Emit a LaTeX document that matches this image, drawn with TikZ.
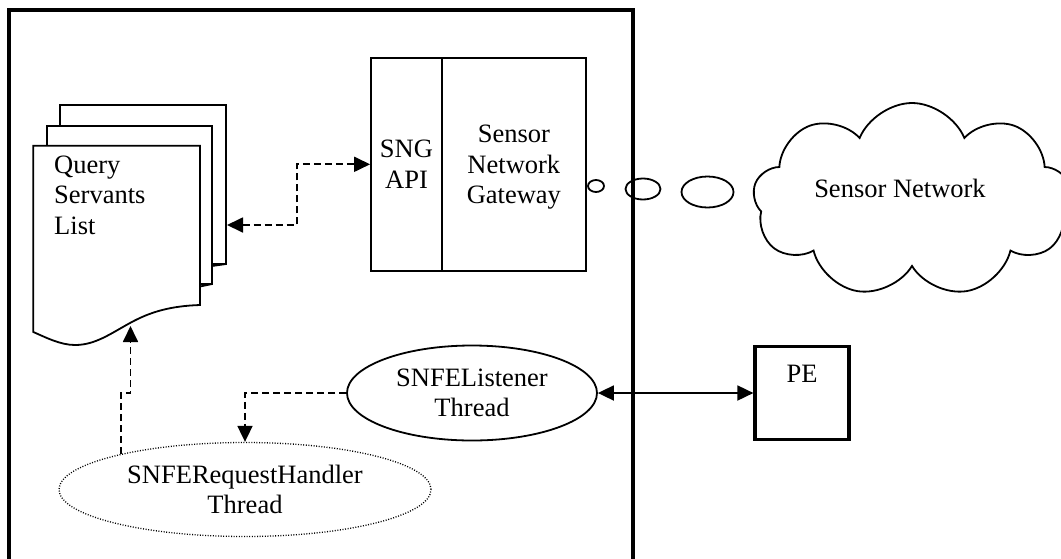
\documentclass[tikz,border=0pt]{standalone}
\usepackage{fontspec}
\setmainfont{Liberation Serif}
\usetikzlibrary{arrows.meta,shapes.geometric,shapes.symbols}
\tikzset{
  txt/.style={font=\fontsize{26.5}{30.5}\selectfont, align=center, inner sep=0pt},
  ln/.style={line width=1.8pt},
  bigbox/.style={line width=3.2pt},
  dconn/.style={ln, dash pattern=on 7pt off 4pt},
  doc/.style={ln, fill=white, line join=miter},
  boxpart/.style={draw, ln, rectangle, inner sep=0pt},
  thread/.style={draw, ln, ellipse, inner sep=0pt},
  bubble/.style={ln},
}
\begin{document}
\begin{tikzpicture}[x=1pt,y=-1pt]
\useasboundingbox (0,0) rectangle (1061,558);
% system boundary
\draw[bigbox] (9,10) rectangle (633,585);

% document stack
\draw[doc] (60,105) rectangle (226,264);
\draw[ln] (226,264) -- (212,266);
\draw[doc] (47,125.7) rectangle (212,284);
\draw[ln] (212,284) -- (200,286.5);
\draw[doc] (33.3,145.7) -- (200,145.7) -- (200,305)
  .. controls (170,306) and (150,312) .. (130,323)
  .. controls (110,334) and (95,345) .. (75,345)
  .. controls (60,345) and (45,337) .. (33.3,332) -- cycle;
\node[txt, align=left, anchor=west] (qsl) at (54,195) {Query\\Servants\\List};
\coordinate (qsr) at (227,225);
\coordinate (qsb) at (130.5,326);

% gateway
\node[boxpart, txt, minimum width=71pt, minimum height=213.3pt] (sng) at (406.5,164.3) {SNG\\API};
\node[boxpart, txt, text depth=-6pt, minimum width=143.7pt, minimum height=213.3pt] (gw) at (513.85,164.3) {Sensor\\Network\\Gateway};

% bubbles
\draw[bubble] (596,186) ellipse [x radius=8pt, y radius=6pt];
\draw[bubble] (643,189) ellipse [x radius=17.5pt, y radius=10.5pt];
\draw[bubble] (707.5,192) ellipse [x radius=26pt, y radius=15.5pt];

% cloud
\node[cloud, draw, ln, cloud puffs=9, cloud puff arc=135, cloud ignores aspect, minimum width=318pt, minimum height=194pt] (sn) at (912,200) {};
\node[txt] (snlbl) at (900,188) {Sensor Network};

% threads
\node[thread, txt, minimum width=250pt, minimum height=95pt] (snl) at (472,393) {SNFEListener\\Thread};
\node[thread, txt, draw, line width=1.3pt, dash pattern=on 1pt off 1.6pt, minimum width=372pt, minimum height=94pt] (rh) at (245,489.5) {SNFERequestHandler\\Thread};

% PE
\node[draw, bigbox, txt, text height=17.5pt, text depth=38pt, minimum width=94pt, minimum height=93pt] (pe) at (802,393) {PE};

% connectors
\draw[dconn, {Triangle[length=16pt,width=15pt]}-{Triangle[length=16pt,width=15pt]}] (qsr) -- (297,225) |- (sng.west);
\draw[dconn, -{Triangle[length=16pt,width=15pt]}] (snl.west) -| (rh.north);
\draw[dconn, -{Triangle[length=16pt,width=15pt]}] (rh.164.5) -- (rh.164.5 |- snl.west) -| (qsb);
\draw[ln, {Triangle[length=16pt,width=15pt]}-{Triangle[length=16pt,width=15pt]}] (snl.east) -- (pe.west);
\end{tikzpicture}
\end{document}
